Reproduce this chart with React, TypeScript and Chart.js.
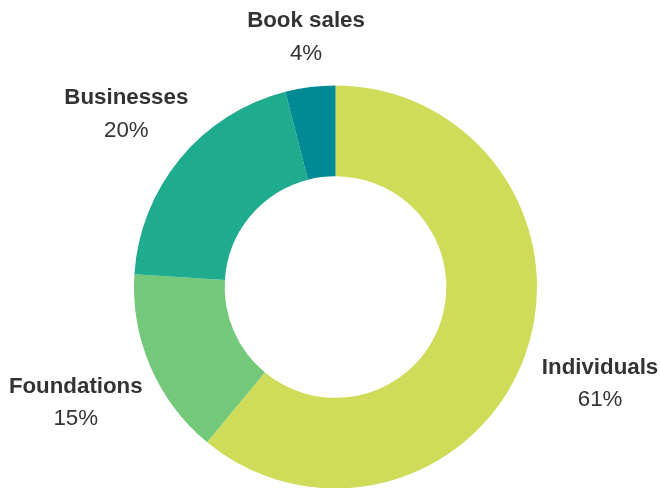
import React, { useEffect, useRef } from "react";
import { Chart, registerables } from "chart.js";

Chart.register(...registerables);

const categories = ["Individuals", "Foundations", "Businesses", "Book sales"];
const shares = [61, 15, 20, 4];
const percentLabels = ["61%", "15%", "20%", "4%"];
const sliceColors = ["#cfdc5a", "#73c87a", "#1fac8e", "#008b94"];

const FONT = '"Liberation Sans", Arial, sans-serif';
const FONT_SIZE = 22.3;

const outerLabels = {
  id: "outerLabels",
  afterDraw(chart: any) {
    const ctx = chart.ctx;
    const meta = chart.getDatasetMeta(0);
    ctx.save();
    ctx.fillStyle = "#333333";
    ctx.textAlign = "center";
    ctx.textBaseline = "middle";
    meta.data.forEach((arc: any, i: number) => {
      const mid = (arc.startAngle + arc.endAngle) / 2;
      const dx = Math.cos(mid);
      const dy = Math.sin(mid);
      ctx.font = "bold " + FONT_SIZE + "px " + FONT;
      const w1 = ctx.measureText(categories[i]).width;
      ctx.font = FONT_SIZE + "px " + FONT;
      const w2 = ctx.measureText(percentLabels[i]).width;
      const hw = Math.max(w1, w2) / 2;
      const hh = 30;
      const ext = Math.sqrt((dx * hw) * (dx * hw) + (dy * hh) * (dy * hh));
      const d = arc.outerRadius + 21.5 + ext;
      const cx = arc.x + dx * d + 2.3;
      const cy = arc.y + dy * d + 2;
      ctx.font = "bold " + FONT_SIZE + "px " + FONT;
      ctx.fillText(categories[i], cx, cy - 16);
      ctx.font = FONT_SIZE + "px " + FONT;
      ctx.fillText(percentLabels[i], cx, cy + 16.5);
    });
    ctx.restore();
  },
};

export default function App() {
  const ref = useRef<HTMLCanvasElement>(null);
  useEffect(() => {
    if (!ref.current) return;
    const chart = new Chart(ref.current, {
      type: "doughnut",
      data: {
        labels: categories,
        datasets: [
          {
            data: shares,
            backgroundColor: sliceColors,
            borderWidth: 0,
          },
        ],
      },
      options: {
        animation: false,
        responsive: true,
        maintainAspectRatio: false,
        cutout: "55%",
        layout: { padding: { top: 85.5, bottom: 11.5, left: 134, right: 123 } },
        plugins: {
          legend: { display: false },
          tooltip: { enabled: false },
        },
      },
      plugins: [outerLabels],
    });
    return () => chart.destroy();
  }, []);
  return (
    <div
      style={{
        position: "fixed",
        left: 0,
        top: 0,
        width: 660,
        height: 488,
        overflow: "hidden",
        background: "#ffffff",
      }}
    >
      <div style={{ position: "relative", width: 660, height: 500 }}>
        <canvas ref={ref} />
      </div>
    </div>
  );
}
